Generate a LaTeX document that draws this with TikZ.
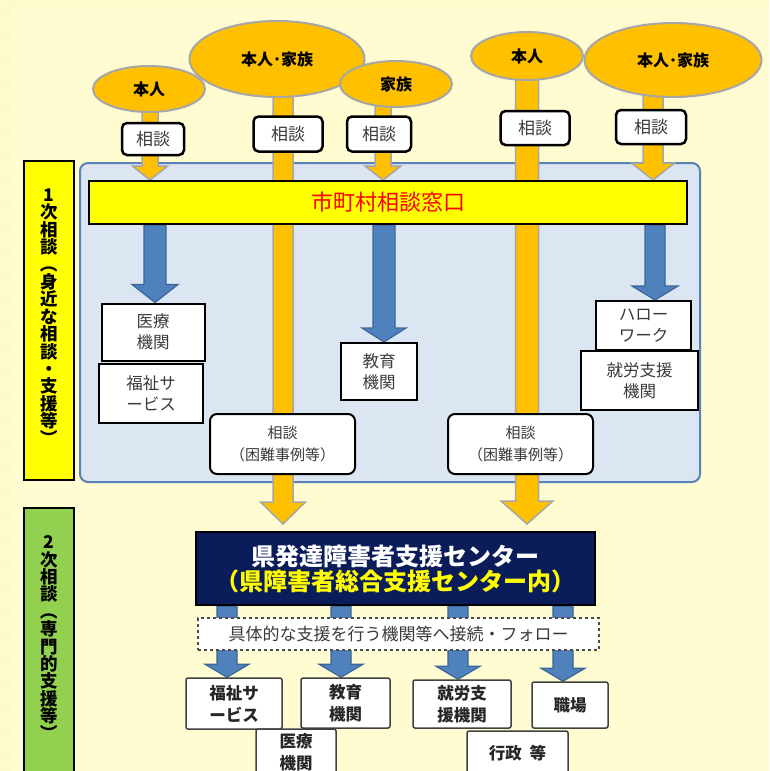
\documentclass[tikz,border=0pt]{standalone}
\usepackage{fontspec}
\usepackage{graphicx}
\setmainfont{Noto Sans CJK JP}
\usetikzlibrary{calc,patterns,shapes.geometric}
\pgfdeclarelayer{bg}
\pgfdeclarelayer{arr}
\pgfsetlayers{bg,arr,main}
\definecolor{cream}{HTML}{FFFCD2}
\definecolor{dotc}{HTML}{F2E08A}
\definecolor{orangeY}{HTML}{FFC000}
\definecolor{grayB}{HTML}{A6A6A6}
\definecolor{panelc}{HTML}{DCE6F2}
\definecolor{panelb}{HTML}{5882B8}
\definecolor{blueA}{HTML}{4F81BD}
\definecolor{blueB}{HTML}{3B6597}
\definecolor{navy}{HTML}{0B1C5A}
\definecolor{greenL}{HTML}{92D050}
\definecolor{textg}{HTML}{3A3A3A}
\definecolor{redT}{HTML}{FF0000}
\definecolor{yellowT}{HTML}{FFFF00}
\newcommand\fsz[2]{\fontsize{#1}{#2}\selectfont}
\newcommand\vopen{\rotatebox[origin=c]{-90}{（}}
\newcommand\vclose{\rotatebox[origin=c]{-90}{）}}
\newcommand\blockarrow[6]{%
  \path[#1] let \p1=(#2), \p2=(#3) in
  (\x1-#4pt,\y1) -- (\x1+#4pt,\y1) -- (\x1+#4pt,\y2+#6pt) -- (\x1+#5pt,\y2+#6pt)
  -- (\x1,\y2) -- (\x1-#5pt,\y2+#6pt) -- (\x1-#4pt,\y2+#6pt) -- cycle;}
\tikzset{
  ell/.style={ellipse, fill=orangeY, draw=grayB, line width=2pt, inner sep=0pt,
    font=\fsz{16}{18}\bfseries, text=black},
  sodan/.style={rectangle, rounded corners=5pt, fill=white, draw=black, line width=2.5pt,
    inner sep=0pt, font=\fsz{17}{20}, text=textg},
  pbox/.style={rectangle, fill=white, draw=black, line width=2pt, inner sep=0pt,
    align=center, font=\fsz{16.5}{21}, text=textg},
  cbx/.style={rectangle, rounded corners=7pt, fill=white, draw=black, line width=2pt, inner sep=0pt,
    align=center, font=\fsz{15}{22}, text=textg},
  bbox/.style={rectangle, rounded corners=2pt, fill=white, draw=black!75, line width=1.5pt, inner sep=0pt,
    align=center, font=\fsz{16.5}{22}\bfseries, text=black!85},
  lab/.style={rectangle, draw=black, line width=2.5pt, inner sep=0pt, minimum width=50pt},
  vtext/.style={align=center, inner sep=0pt, font=\fsz{17.5}{17.4}\bfseries, text=black},
  oarrow/.style={fill=orangeY, draw=grayB, line width=1.5pt},
  barrow/.style={fill=blueA, draw=blueB, line width=1.2pt},
}
\begin{document}
\begin{tikzpicture}[x=1pt,y=-1pt]
\useasboundingbox (0,0) rectangle (769,771);
\begin{pgfonlayer}{bg}
  \fill[cream] (0,0) rectangle (769,771);
  \fill[pattern=dots, pattern color=dotc] (0,0) rectangle (9,771);
  \fill[pattern=dots, pattern color=dotc] (9,0) rectangle (769,7);
  \node[rectangle, rounded corners=8pt, fill=panelc, draw=panelb, line width=2pt,
        minimum width=620pt, minimum height=319pt] (panel) at (390,322.5) {};
\end{pgfonlayer}

% left labels
\node[lab, fill=yellowT, minimum height=319pt] (lab1) at (49,320.5) {};
\node[vtext] (lab1t) at (49,318) {1\\次\\相\\談\\\vopen\\身\\近\\な\\相\\談\\・\\支\\援\\等\\\vclose};
\node[lab, fill=greenL, minimum height=272pt] (lab2) at (49,644) {};
\node[vtext] (lab2t) at (49,639) {2\\次\\相\\談\\\vopen\\専\\門\\的\\支\\援\\等\\\vclose};

% ellipses
\node[ell, minimum width=112pt, minimum height=46pt] (e1) at (149,89) {本人};
\node[ell, minimum width=175pt, minimum height=76pt] (e2) at (277,59) {本人･家族};
\node[ell, minimum width=112pt, minimum height=46pt] (e3) at (396,84) {家族};
\node[ell, minimum width=112pt, minimum height=48pt] (e4) at (527,56) {本人};
\node[ell, minimum width=177pt, minimum height=74pt] (e5) at (673,60) {本人･家族};

% sodan boxes
\node[sodan, minimum width=62pt, minimum height=32pt] (s1) at (153,139) {相談};
\node[sodan, minimum width=69pt, minimum height=35pt] (s2) at (288,134) {相談};
\node[sodan, minimum width=64pt, minimum height=35pt] (s3) at (379,134) {相談};
\node[sodan, minimum width=69pt, minimum height=34pt] (s4) at (535,128) {相談};
\node[sodan, minimum width=70pt, minimum height=34pt] (s5) at (651,127) {相談};

% yellow bar
\node[rectangle, fill=yellowT, draw=black, line width=2pt, minimum width=598pt, minimum height=43pt,
      inner sep=0pt, font=\fsz{22}{24}, text=redT] (bar) at (388,202.5) {市町村相談窓口};

% panel boxes
\node[pbox, minimum width=103pt, minimum height=57pt] (med1) at (153,332) {医療\\機関};
\node[pbox, minimum width=104pt, minimum height=59pt] (fuku1) at (151,393.5) {福祉サ\\ービス};
\node[pbox, minimum width=76pt, minimum height=57pt] (edu1) at (379,371.5) {教育\\機関};
\node[pbox, minimum width=95pt, minimum height=49pt] (hw) at (643.5,325.5) {ハロー\\ワーク};
\node[pbox, minimum width=117pt, minimum height=59pt] (job1) at (639.5,380.5) {就労支援\\機関};
\node[cbx, minimum width=145pt, minimum height=60pt] (con1) at (282.5,444) {相談\\（困難事例等）};
\node[cbx, minimum width=145pt, minimum height=60pt] (con2) at (520.5,444) {相談\\（困難事例等）};

% center
\node[rectangle, fill=navy, draw=black, line width=2pt, minimum width=399pt, minimum height=73pt,
      inner sep=0pt, align=center, font=\fsz{24}{25}\bfseries] (cbox) at (395.5,568.5)
      {\textcolor{white}{県発達障害者支援センター}\\\textcolor{yellowT}{（県障害者総合支援センター内）}};
\node[rectangle, fill=white, draw=black!70, dashed, line width=1.5pt, minimum width=401pt, minimum height=32pt,
      inner sep=0pt, font=\fsz{17}{20}, text=textg] (dbox) at (398.5,634) {具体的な支援を行う機関等へ接続・フォロー};

% bottom boxes
\node[bbox, minimum width=96pt, minimum height=51pt] (fuku2) at (234,703.5) {福祉サ\\ービス};
\node[bbox, minimum width=89pt, minimum height=50pt] (edu2) at (345.5,703) {教育\\機関};
\node[bbox, minimum width=80pt, minimum height=47pt] (med2) at (296,752.5) {医療\\機関};
\node[bbox, minimum width=98pt, minimum height=48pt] (job2) at (462,704) {就労支\\援機関};
\node[bbox, minimum width=76pt, minimum height=46pt] (work) at (570,705) {職場};
\node[bbox, minimum width=101pt, minimum height=44pt] (gyo) at (517.5,753) {行政\hspace{8pt}等};

% arrow x positions
\coordinate (ox1) at (150,0);
\coordinate (ox2) at (283,0);
\coordinate (ox3) at (383,0);
\coordinate (ox4) at (527,0);
\coordinate (ox5) at (653,0);
\coordinate (bx1) at (155,0);
\coordinate (bx2) at (384,0);
\coordinate (bx3) at (655,0);
\coordinate (cx1) at (227,0);
\coordinate (cx2) at (341,0);
\coordinate (cx3) at (458,0);
\coordinate (cx4) at (563,0);

\begin{pgfonlayer}{arr}
  \blockarrow{oarrow}{ox1 |- e1.center}{ox1 |- bar.north}{8}{17.5}{14}
  \blockarrow{oarrow}{ox2 |- e2.center}{$(ox2 |- cbox.north)+(0,-7)$}{10}{22.5}{22}
  \blockarrow{oarrow}{ox3 |- e3.center}{ox3 |- bar.north}{8}{18}{14}
  \blockarrow{oarrow}{ox4 |- e4.center}{$(ox4 |- cbox.north)+(0,-7)$}{11.5}{26}{23}
  \blockarrow{oarrow}{ox5 |- e5.center}{ox5 |- bar.north}{10}{21.5}{17}
  \blockarrow{barrow}{bx1 |- bar.south}{bx1 |- med1.north}{11}{23}{18}
  \blockarrow{barrow}{bx2 |- bar.south}{bx2 |- edu1.north}{11}{22}{14}
  \blockarrow{barrow}{bx3 |- bar.south}{bx3 |- hw.north}{10}{23}{14}
  \blockarrow{barrow}{cx1 |- cbox.south}{cx1 |- fuku2.north}{10}{22}{13}
  \blockarrow{barrow}{cx2 |- cbox.south}{cx2 |- edu2.north}{10}{22}{13}
  \blockarrow{barrow}{cx3 |- cbox.south}{cx3 |- job2.north}{10}{22}{13}
  \blockarrow{barrow}{cx4 |- cbox.south}{cx4 |- work.north}{10}{22}{13}
\end{pgfonlayer}
\end{tikzpicture}
\end{document}
